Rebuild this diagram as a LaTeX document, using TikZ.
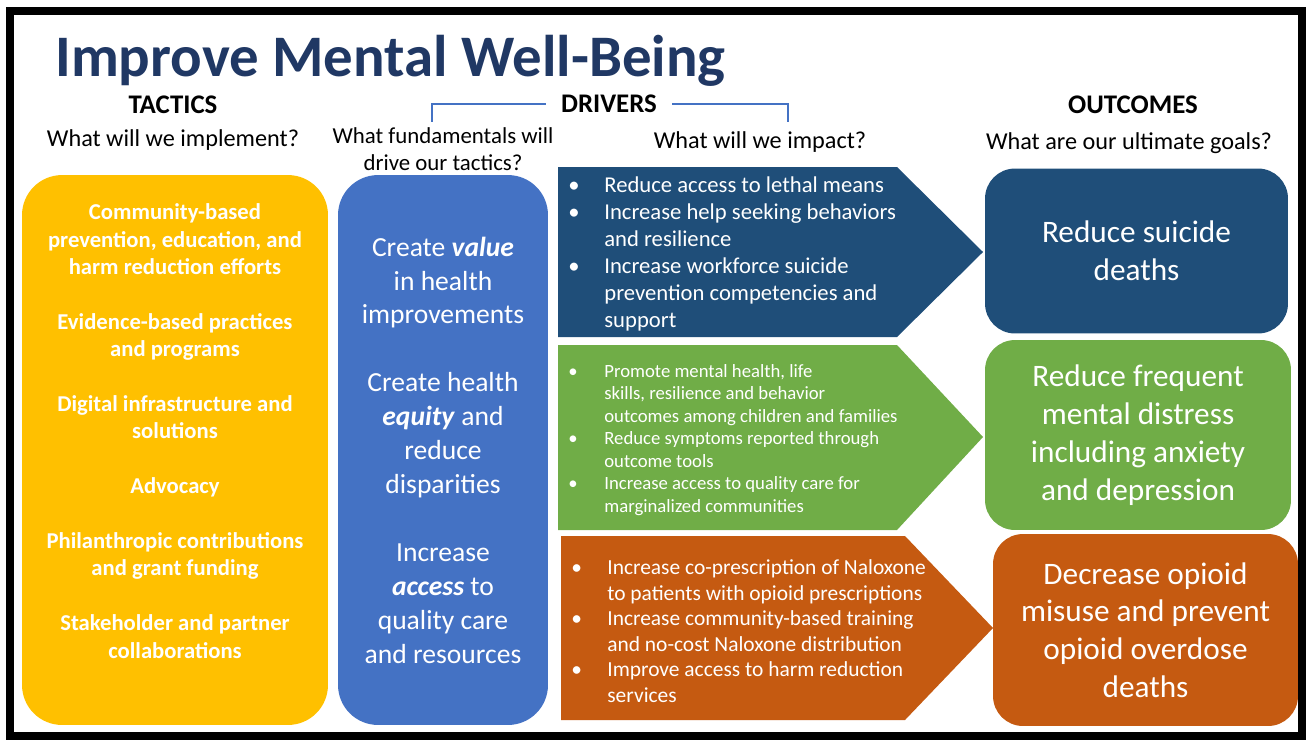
\documentclass[tikz,border=0pt]{standalone}
\usepackage{fontspec}
\setmainfont{Carlito}
\usepackage{tikz}
\usetikzlibrary{positioning}
\definecolor{TitleNavy}{HTML}{203864}
\definecolor{TacticGold}{HTML}{FFC000}
\definecolor{DriverBlue}{HTML}{4472C4}
\definecolor{SuicideBlue}{HTML}{1F4E79}
\definecolor{DistressGreen}{HTML}{70AD47}
\definecolor{OpioidOrange}{HTML}{C55A11}
\newcommand{\bul}[1]{\makebox[#1][l]{\textbullet}}

\begin{document}
\begin{tikzpicture}[x=0.02cm, y=-0.02cm,
    head/.style={font=\fontsize{15.3}{17}\selectfont\bfseries, inner sep=0},
    ask/.style={font=\fontsize{13.8}{14.5}\selectfont, inner sep=0, align=center},
    column/.style={rounded corners=0.8cm, inner sep=0, text=white, align=center},
    goal/.style={rounded corners=0.6cm, inner sep=0, text=white, align=center,
        font=\fontsize{17.8}{21.5}\selectfont},
    bullets/.style={inner sep=0, text=white, align=left, anchor=west}]
    \useasboundingbox (0,0) rectangle (1307,741);
    % Frame
    \draw[line width=0.16cm] (10,11) rectangle (1302,736);

    % Title and headings
    \node[font=\fontsize{33.5}{38}\selectfont\bfseries, text=TitleNavy, inner sep=0, anchor=west] (title) at (55,61) {Improve Mental Well-Being};
    \node[head] (tac) at (173,105) {TACTICS};
    \node[ask] (tacq) at (173,140) {What will we implement?};
    \node[head, inner xsep=0.3cm] (drv) at (609,104) {DRIVERS};
    \node[ask, font=\fontsize{13}{14.5}\selectfont] (drvq1) at (443,149) {What fundamentals will\\[1pt]drive our tactics?};
    \node[ask] (drvq2) at (760,142) {What will we impact?};
    \node[head] (out) at (1133,105) {OUTCOMES};
    \node[ask] (outq) at (1129,143) {What are our ultimate goals?};
    \coordinate (brl) at (432,122);
    \coordinate (brr) at (788,122);
    \draw[DriverBlue, thick] (drv.west) -| (brl);
    \draw[DriverBlue, thick] (drv.east) -| (brr);

    % Tactics column
    \node[column, fill=TacticGold, minimum width=6.12cm, minimum height=11cm] (tactics) at (175,450) {};
    \node[text=white, inner sep=0, align=center, font=\fontsize{12.9}{15.6}\selectfont\bfseries] (tactxt) at (175,431)
        {Community-based\\prevention, education, and\\harm reduction efforts\\[15.6pt]
         Evidence-based practices\\and programs\\[15.6pt]
         Digital infrastructure and\\solutions\\[15.6pt]
         Advocacy\\[15.6pt]
         Philanthropic contributions\\and grant funding\\[15.6pt]
         Stakeholder and partner\\collaborations};

    % Fundamentals column
    \node[column, fill=DriverBlue, minimum width=4.2cm, minimum height=11cm,
        font=\fontsize{15.7}{19.3}\selectfont] (funds) at (443,450)
        {Create \textbf{\textit{value}}\\in health\\improvements\\[19.3pt]
         Create health\\\textbf{\textit{equity}} and\\reduce\\disparities\\[19.3pt]
         Increase\\\textbf{\textit{access}} to\\quality care\\and resources};

    % Impact arrows
    \fill[SuicideBlue] (558,167) -- (897,167) -- (983,252) -- (897,337) -- (558,337) -- cycle;
    \fill[DistressGreen] (558,345) -- (897,345) -- (983,437) -- (897,530) -- (558,530) -- cycle;
    \fill[OpioidOrange] (561,536) -- (905,536) -- (993,628) -- (905,720) -- (561,720) -- cycle;
    \node[bullets, font=\fontsize{12.9}{15.3}\selectfont] (imp1) at (568,254)
        {\bul{0.72cm}Reduce access to lethal means\\
         \bul{0.72cm}Increase help seeking behaviors\\
         \hspace*{0.72cm}and resilience\\
         \bul{0.72cm}Increase workforce suicide\\
         \hspace*{0.72cm}prevention competencies and\\
         \hspace*{0.72cm}support};
    \node[bullets, font=\fontsize{10.65}{12.8}\selectfont] (imp2) at (568,440)
        {\bul{0.72cm}Promote mental health, life\\
         \hspace*{0.72cm}skills, resilience and behavior\\
         \hspace*{0.72cm}outcomes among children and families\\
         \bul{0.72cm}Reduce symptoms reported through\\
         \hspace*{0.72cm}outcome tools\\
         \bul{0.72cm}Increase access to quality care for\\
         \hspace*{0.72cm}marginalized communities};
    \node[bullets, font=\fontsize{12.2}{14.5}\selectfont] (imp3) at (571,631)
        {\bul{0.72cm}Increase co-prescription of Naloxone\\
         \hspace*{0.72cm}to patients with opioid prescriptions\\
         \bul{0.72cm}Increase community-based training\\
         \hspace*{0.72cm}and no-cost Naloxone distribution\\
         \bul{0.72cm}Improve access to harm reduction\\
         \hspace*{0.72cm}services};

    % Outcomes
    \node[goal, fill=SuicideBlue, minimum width=6.06cm, minimum height=3.3cm] (suicide) at (1136.5,251)
        {Reduce suicide\\deaths};
    \node[goal, fill=DistressGreen, minimum width=6.12cm, minimum height=3.8cm] (distress) at (1138,435)
        {Reduce frequent\\mental distress\\including anxiety\\and depression};
    \node[goal, fill=OpioidOrange, minimum width=6.1cm, minimum height=3.84cm] (opioid) at (1145.5,630)
        {Decrease opioid\\misuse and prevent\\opioid overdose\\deaths};
\end{tikzpicture}
\end{document}
